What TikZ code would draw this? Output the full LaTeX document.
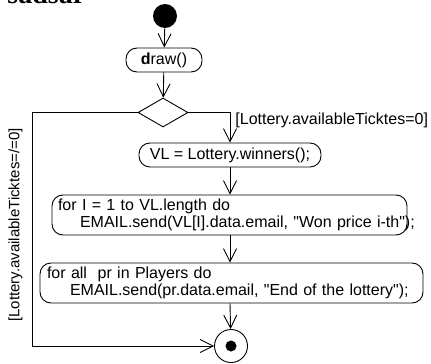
\documentclass[tikz,border=0pt]{standalone}
\usepackage{fontspec}
\setmainfont{Liberation Sans}[Ligatures=TeXOff]
\newfontfamily\headfont{Liberation Serif}
\usepackage{tikz}
\usetikzlibrary{arrows.meta,shapes.geometric}

\begin{document}
\begin{tikzpicture}[
      x=1pt, y=-1pt, line width=0.9pt,
      lbl/.style={font=\fontsize{16pt}{17pt}\selectfont, inner sep=1pt},
      act/.style={
        lbl, draw, rounded corners=11pt,
        inner xsep=6pt, inner ysep=0pt
      },
      flow/.style={-{Straight Barb[length=13pt,width=13pt]}}
    ]
      \clip (0,0) rectangle (431,364);
      \node[anchor=base west, inner sep=0pt, font=\headfont\bfseries\fontsize{28pt}{28pt}\selectfont] (head) at (7,3){sadsar};

      \node[circle, fill=black, minimum size=24pt, inner sep=0pt] (init) at (165,16){};
      \node[act, minimum width=76pt, minimum height=24pt] (drawop) at (164,60){\textbf{d}raw()};
      \node[diamond, draw, minimum width=50pt, minimum height=29pt, inner sep=0pt] (check) at (163,112.5){};
      \node[act, minimum width=182pt, minimum height=24pt] (winners) at (230,155){VL = Lottery.winners();};
      \node[act, minimum width=355pt, minimum height=40pt, text width=343pt, align=left] (loopwin) at (229.5,215){for I = 1 to VL.length do\\
        \hspace*{22pt}\mbox{EMAIL.send(VL[I].data.email, "Won price i-th");}};
      \node[act, minimum width=383pt, minimum height=40pt, inner xsep=7pt, text width=369pt, align=left] (loopall) at (231.5,283){for all~ pr in Players do\\
        \hspace*{23pt}\mbox{EMAIL.send(pr.data.email, "End of the lottery");}};
      \node[circle, draw, minimum size=33pt, inner sep=0pt] (final) at (231,346){};
      \node[circle, fill=black, minimum size=11pt, inner sep=0pt] (finaldot) at (final){};

      \node[lbl, anchor=west] (yes) at (234,120){[Lottery.availableTicktes=0]};
      \node[lbl, font=\fontsize{15pt}{17pt}\selectfont, rotate=90] (no) at (15.5,225){[Lottery.availableTicktes=/=0]};
      \coordinate (corner) at (32,112.5);

      \draw[flow] (init)--(drawop);
      \draw[flow] (drawop)--(check);
      \draw[flow] (check.east)-|(winners.north);
      \draw[flow] (winners.south)--(winners.south |- loopwin.north);
      \draw[flow] (loopwin.south -| winners.south)--(winners.south |- loopall.north);
      \draw[flow] (loopall.south -| winners.south)--(final);
      \draw[flow] (check.west)--(corner)|-(final);
    \end{tikzpicture}
\end{document}
